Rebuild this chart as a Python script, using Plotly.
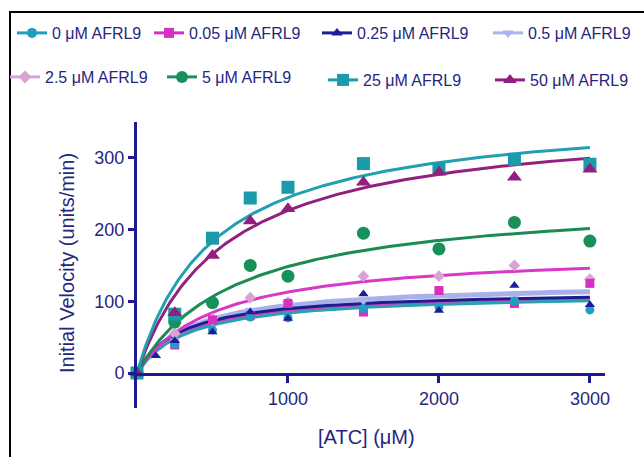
import numpy as np
import plotly.graph_objects as go

# ---------------- data ----------------
series_names = ["0 μM AFRL9", "0.05 μM AFRL9", "0.25 μM AFRL9", "0.5 μM AFRL9",
                "2.5 μM AFRL9", "5 μM AFRL9", "25 μM AFRL9", "50 μM AFRL9"]

atc = [0, 250, 500, 750, 1000, 1500, 2000, 2500, 3000]
atc_025 = [0, 125, 250, 500, 750, 1000, 1500, 2000, 2500, 3000]

v_0 = [0, 40, 60, 78, 77, 90, 92, 100, 88]
v_005 = [0, 39, 74, 80, 97, 85, 115, 97, 125]
v_025 = [0, 24, 45, 57, 85, 76, 110, 87, 122, 95]
v_05 = [0, 45, 70, 88, 97, 100, 113, 105, 128]
v_25 = [0, 55, 76, 105, 99, 135, 135, 150, 131]
v_5 = [0, 71, 98, 150, 135, 195, 173, 210, 184]
v_250 = [0, 82, 188, 244, 259, 292, 285, 298, 291]
v_500 = [0, 84, 164, 212, 229, 266, 280, 273, 284]

series_x = [atc, atc, atc_025, atc, atc, atc, atc, atc]
series_y = [v_0, v_005, v_025, v_05, v_25, v_5, v_250, v_500]

# Michaelis-Menten fit parameters
fit_vmax = [112, 115, 116, 126, 171, 245, 367, 357]
fit_km = [338, 320, 293, 337, 513, 650, 500, 575]

x_ticks = [1000, 2000, 3000]
y_ticks = [0, 100, 200, 300]

# ---------------- styles ----------------
marker_colors = ["#1f9fbf", "#d630c0", "#1c1c9c", "#aab4ee",
                 "#d9a3d6", "#17905a", "#1a9aaa", "#921e80"]
curve_colors = ["#2aa0b0", "#d040c0", "#1d1d8f", "#a9b1ea",
                "#d838c8", "#1b8a55", "#22a0b0", "#92207f"]
curve_widths = [3, 3, 3, 5, 3, 3, 3, 3]
symbols = ["circle", "square", "triangle-up", "triangle-down",
           "diamond", "circle", "square", "triangle-up"]
msizes = [9, 9, 9, 9, 9, 13, 13, 13]
curve_order = [1, 3, 2, 0, 4, 5, 7, 6]

AX = "#1c1c8e"
TXT = "#262680"
W, H = 644, 457
L, R, T, B = 137, 605, 122, 373

fig = go.Figure()

xs = np.linspace(0, 3000, 301)
for i in curve_order:
    fig.add_trace(go.Scatter(
        x=xs, y=fit_vmax[i] * xs / (fit_km[i] + xs), mode="lines",
        line=dict(color=curve_colors[i], width=curve_widths[i]),
        showlegend=False, hoverinfo="skip"))

for i in [3, 4, 1, 0, 2, 5, 6, 7]:
    fig.add_trace(go.Scatter(
        x=series_x[i], y=series_y[i], mode="markers",
        marker=dict(color=marker_colors[i], symbol=symbols[i], size=msizes[i],
                    line=dict(width=0)),
        cliponaxis=False, showlegend=False, name=series_names[i]))

# legend entries
text_starts = [52, 189, 357, 528, 45, 202, 363, 530]
rows_y = [33, 33, 33, 33, 77, 77, 80, 80]
layout_legends = {}
for i in range(8):
    key = "legend" if i == 0 else f"legend{i+1}"
    fig.add_trace(go.Scatter(
        x=[None], y=[None], mode="lines+markers", name=series_names[i],
        line=dict(color=marker_colors[i], width=3),
        marker=dict(color=marker_colors[i], symbol=symbols[i],
                    size=10 if msizes[i] < 12 else 12),
        legend=key, showlegend=True))
    layout_legends[key] = dict(
        xref="container", yref="container",
        x=(text_starts[i] - 40) / W, y=1 - rows_y[i] / H,
        xanchor="left", yanchor="middle",
        bgcolor="rgba(0,0,0,0)", borderwidth=0,
        font=dict(family="Arial, Liberation Sans", size=16, color=TXT))

pw, ph = R - L, B - T
fig.update_layout(
    width=W, height=H,
    margin=dict(l=L, r=W - R, t=T, b=H - B, pad=0, autoexpand=False),
    paper_bgcolor="white", plot_bgcolor="white",
    font=dict(family="Arial, Liberation Sans", color=TXT),
    xaxis=dict(range=[0, 3100], tickvals=x_ticks, showgrid=False, zeroline=False,
               showline=True, linewidth=3, linecolor=AX,
               ticks="outside", ticklen=7, tickwidth=3, tickcolor=AX,
               tickfont=dict(size=18, color=TXT)),
    yaxis=dict(range=[0, 350], tickvals=y_ticks, showgrid=False, zeroline=False,
               showline=True, linewidth=3, linecolor=AX,
               ticks="outside", ticklen=6, tickwidth=3, tickcolor=AX,
               tickfont=dict(size=18, color=TXT)),
    shapes=[
        dict(type="line", xref="paper", yref="paper", x0=-1.5 / pw, x1=-1.5 / pw,
             y0=0, y1=-(408 - B) / ph, line=dict(color=AX, width=3)),
        dict(type="rect", xref="paper", yref="paper",
             x0=(10 - L) / pw, x1=(700 - L) / pw,
             y0=(B - 520) / ph, y1=(B - 12) / ph,
             line=dict(color="black", width=2), layer="below"),
    ],
    annotations=[
        dict(text="Initial Velocity (units/min)", xref="paper", yref="paper",
             x=(67 - L) / pw, y=(B - 263) / ph, textangle=-90, showarrow=False,
             font=dict(size=20, color=TXT), xanchor="center", yanchor="middle"),
        dict(text="[ATC] (μM)", xref="paper", yref="paper",
             x=(366 - L) / pw, y=(B - 437) / ph, showarrow=False,
             font=dict(size=20, color=TXT), xanchor="center", yanchor="middle"),
    ],
    **layout_legends,
)

fig.write_html("out.html")
